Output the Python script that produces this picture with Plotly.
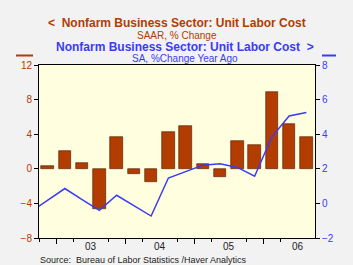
import plotly.graph_objects as go

quarters = ["2002Q3", "2002Q4",
            "2003Q1", "2003Q2", "2003Q3", "2003Q4",
            "2004Q1", "2004Q2", "2004Q3", "2004Q4",
            "2005Q1", "2005Q2", "2005Q3", "2005Q4",
            "2006Q1", "2006Q2", "2006Q3"]
# SAAR % change (bars, left axis); None where not shown
ulc_saar = [None, 0.3,
            2.1, 0.7, -4.6, 3.7,
            -0.6, -1.5, 4.3, 5.0,
            0.5, -0.9, 3.2, 2.8,
            8.9, 5.2, 3.7]
# % change year ago (line, right axis)
ulc_yoy = [-0.5, 0.2,
           0.86, 0.22, -0.4, 0.47,
           -0.13, -0.73, 1.47, 1.85,
           2.21, 2.29, 2.08, 1.57,
           3.85, 5.05, 5.26]
year_labels = ["03", "04", "05", "06"]

BROWN = "#b33c00"
BLUE = "#3b3bf5"

W, H = 353, 265
ML, MR, MT, MB = 39, 38, 65, 27
PW, PH = W - ML - MR, H - MT - MB


def px(xp):
    return (xp - ML) / PW


def py(yp):
    return (H - MB - yp) / PH


first_shown = 1
x = [i - first_shown for i in range(len(quarters))]

bar_x = [xi for xi, v in zip(x, ulc_saar) if v is not None]
bar_y = [v for v in ulc_saar if v is not None]

# ticks: long at year starts, short at Q2/Q4 starts
year_ticks, minor_ticks = [], []
for xi, q in zip(x, quarters):
    if xi < 0:
        continue
    qn = q[-1]
    if qn == "1":
        year_ticks.append(xi - 0.5)
    elif qn in ("2", "4"):
        minor_ticks.append(xi - 0.5)

fig = go.Figure()
fig.add_trace(go.Bar(x=bar_x, y=bar_y, marker=dict(color=BROWN, line=dict(color="#4a1a00", width=0.6)),
                     width=0.72, yaxis="y", showlegend=False))
fig.add_trace(go.Scatter(x=x, y=ulc_yoy, mode="lines", line=dict(color=BLUE, width=1.5),
                         yaxis="y2", showlegend=False))

n_shown = len(x) - first_shown
fig.update_layout(
    width=W, height=H,
    margin=dict(l=ML, r=MR, t=MT, b=MB),
    paper_bgcolor="#f2f2f2", plot_bgcolor="#ffffe0",
    font=dict(family="Liberation Sans, Arial, sans-serif", size=9),
    bargap=0,
    xaxis=dict(range=[-0.5, n_shown - 0.5], tickmode="array", tickvals=year_ticks,
               ticks="outside", ticklen=5, tickcolor="black", showticklabels=False,
               showline=True, linecolor="black", linewidth=1, mirror=True,
               showgrid=False, zeroline=False,
               minor=dict(tickvals=minor_ticks, ticks="outside", ticklen=3, tickcolor="black")),
    yaxis=dict(range=[-8, 12], tickmode="linear", tick0=-8, dtick=4,
               ticks="outside", ticklen=4, tickcolor="black",
               tickfont=dict(color=BROWN, size=10),
               showline=True, linecolor="black", linewidth=1,
               showgrid=False, zeroline=False),
    yaxis2=dict(range=[-2, 8], tickmode="linear", tick0=-2, dtick=2, overlaying="y", side="right",
                ticks="outside", ticklen=4, tickcolor="black",
                tickfont=dict(color=BLUE, size=10),
                showline=True, linecolor="black", linewidth=1,
                showgrid=False, zeroline=False),
)

# year labels centred on each year
for i, lab in enumerate(year_labels):
    fig.add_annotation(x=year_ticks[i] + 2, y=py(246), xref="x", yref="paper",
                       text=lab, showarrow=False, yanchor="middle",
                       font=dict(size=10, color="#222222"))

annots = [
    ("<  Nonfarm Business Sector: Unit Labor Cost", 177, 23, 12, BROWN, True),
    ("SAAR, % Change", 177, 35, 10, BROWN, False),
    ("Nonfarm Business Sector: Unit Labor Cost  >", 185, 47, 12, BLUE, True),
    ("SA, %Change Year Ago", 185, 59, 10, BLUE, False),
]
for txt, cx, cy, sz, col, bold in annots:
    fig.add_annotation(x=px(cx), y=py(cy), xref="paper", yref="paper",
                       text=f"<b>{txt}</b>" if bold else txt, showarrow=False,
                       xanchor="center", yanchor="middle",
                       font=dict(size=sz, color=col))

fig.add_annotation(x=px(38), y=py(260), xref="paper", yref="paper",
                   text="Source:  Bureau of Labor Statistics /Haver Analytics", showarrow=False,
                   xanchor="left", yanchor="middle", font=dict(size=9, color="#222222"))

# small legend keys above each axis
fig.add_shape(type="line", xref="paper", yref="paper", x0=px(16), x1=px(33), y0=py(55.5), y1=py(55.5),
              line=dict(color=BROWN, width=2))
fig.add_shape(type="line", xref="paper", yref="paper", x0=px(322), x1=px(336), y0=py(55.5), y1=py(55.5),
              line=dict(color=BLUE, width=2))

fig.write_html("out.html")
